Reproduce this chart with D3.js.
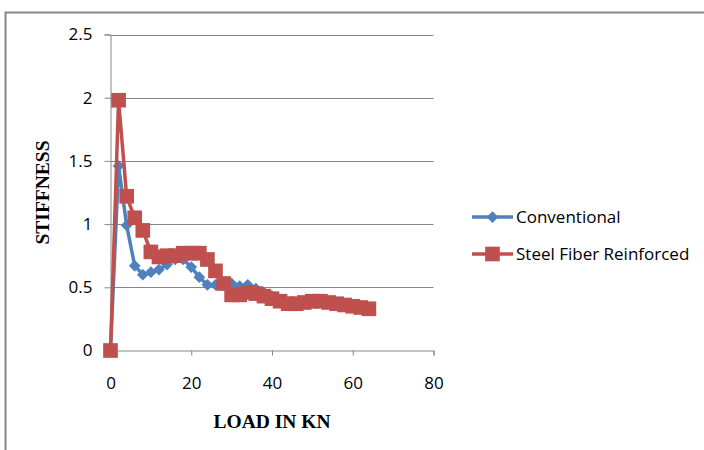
<!DOCTYPE html>
<html>
<head>
<meta charset="utf-8">
<script src="https://cdn.jsdelivr.net/npm/d3@7"></script>
<style>
  body { margin: 0; background: #fff; }
  svg { display: block; }
</style>
</head>
<body>
<div id="chart"></div>
<script>
// load steps (kN) and stiffness
const loadConv = [0, 2, 4, 6, 8, 10, 12, 14, 16, 18, 20, 22, 24, 26, 28, 30, 32, 34, 36, 38, 40];
const stiffConv = [0, 1.46, 0.99, 0.67, 0.60, 0.62, 0.64, 0.68, 0.72, 0.72, 0.66, 0.58, 0.52, 0.52, 0.52, 0.53, 0.51, 0.52, 0.49, 0.46, 0.43];

const loadSfr = [0, 2, 4, 6, 8, 10, 12, 14, 16, 18, 20, 22, 24, 26, 28, 30, 32, 34, 36, 38, 40, 42, 44, 46, 48, 50, 52, 54, 56, 58, 60, 62, 64];
const stiffSfr = [0, 1.98, 1.22, 1.05, 0.95, 0.78, 0.74, 0.75, 0.75, 0.77, 0.77, 0.77, 0.72, 0.63, 0.53, 0.44, 0.44, 0.46, 0.45, 0.43, 0.41, 0.39, 0.37, 0.37, 0.38, 0.39, 0.39, 0.38, 0.37, 0.36, 0.35, 0.34, 0.33];

const xTicks = [0, 20, 40, 60, 80];
const yTicks = [0, 0.5, 1, 1.5, 2, 2.5];

const seriesNames = ['Conventional', 'Steel Fiber Reinforced'];
const seriesColors = ['#4F81BD', '#C0504D'];

const outerWidth = 704;
const outerHeight = 450;
const plot = { left: 110.5, top: 34.5, right: 433.5, bottom: 350.5 };
const gridColor = '#868686';
const tickFont = '"Open Sans", "Noto Sans", sans-serif';

const svg = d3.select('#chart').append('svg')
    .attr('width', outerWidth)
    .attr('height', outerHeight);

// chart frame
svg.append('rect')
    .attr('x', 5.5).attr('y', 12.5)
    .attr('width', 720).attr('height', 460)
    .attr('fill', 'none')
    .attr('stroke', gridColor)
    .attr('stroke-width', 2);

const x = d3.scaleLinear().domain([0, 80]).range([plot.left, plot.right]);
const y = d3.scaleLinear().domain([0, 2.5]).range([plot.bottom, plot.top]);

// horizontal gridlines
svg.append('g')
    .selectAll('line')
    .data(yTicks.filter(d => d > 0))
    .join('line')
    .attr('x1', plot.left).attr('x2', plot.right)
    .attr('y1', d => Math.round(y(d)) + 0.5).attr('y2', d => Math.round(y(d)) + 0.5)
    .attr('stroke', gridColor);

const xAxis = d3.axisBottom(x).tickValues(xTicks).tickSize(5);
const yAxis = d3.axisLeft(y).tickValues(yTicks).tickSize(6).tickPadding(12)
    .tickFormat(d3.format('~g'));

const gx = svg.append('g')
    .attr('transform', `translate(0, ${plot.bottom})`)
    .call(xAxis);
const gy = svg.append('g')
    .attr('transform', `translate(${plot.left}, 0)`)
    .call(yAxis);

[gx, gy].forEach(g => {
    g.select('.domain').attr('stroke', gridColor);
    g.selectAll('.tick line').attr('stroke', gridColor);
    g.selectAll('.tick text')
        .attr('fill', '#000')
        .style('font-family', tickFont)
        .style('font-size', '17px');
});
gx.selectAll('.tick text').attr('y', 38.5).attr('dy', 0);

// axis titles
svg.append('text')
    .attr('x', (plot.left + plot.right) / 2)
    .attr('y', 428)
    .attr('text-anchor', 'middle')
    .style('font-family', '"Liberation Serif", "Times New Roman", serif')
    .style('font-weight', 'bold')
    .style('font-size', '19.5px')
    .text('LOAD IN KN');

svg.append('text')
    .attr('transform', `translate(49, ${(plot.top + plot.bottom) / 2}) rotate(-90)`)
    .attr('text-anchor', 'middle')
    .style('font-family', '"Liberation Serif", "Times New Roman", serif')
    .style('font-weight', 'bold')
    .style('font-size', '19.5px')
    .text('STIFFNESS');

const line = d3.line().x(d => x(d[0])).y(d => y(d[1]));

const diamond = d3.symbol().type(d3.symbolDiamond2).size(88);
const square = d3.symbol().type(d3.symbolSquare).size(215);

const series = [
    { name: seriesNames[0], color: seriesColors[0], symbol: diamond,
      points: loadConv.map((l, i) => [l, stiffConv[i]]) },
    { name: seriesNames[1], color: seriesColors[1], symbol: square,
      points: loadSfr.map((l, i) => [l, stiffSfr[i]]) }
];

series.forEach(s => {
    const g = svg.append('g');
    g.append('path')
        .datum(s.points)
        .attr('d', line)
        .attr('fill', 'none')
        .attr('stroke', s.color)
        .attr('stroke-width', 3.5)
        .attr('stroke-linejoin', 'round');
    g.selectAll('path.mark')
        .data(s.points)
        .join('path')
        .attr('class', 'mark')
        .attr('transform', d => `translate(${x(d[0])}, ${y(d[1])})`)
        .attr('d', s.symbol)
        .attr('fill', s.color);
});

// legend
const legend = svg.append('g');
const legendY = [217, 254];
series.forEach((s, i) => {
    const row = legend.append('g').attr('transform', `translate(472, ${legendY[i]})`);
    row.append('line')
        .attr('x1', 0).attr('x2', 41)
        .attr('stroke', s.color)
        .attr('stroke-width', 3.5);
    row.append('path')
        .attr('transform', 'translate(20.5, 0)')
        .attr('d', s.symbol)
        .attr('fill', s.color);
    row.append('text')
        .attr('x', 44)
        .attr('dy', '0.35em')
        .style('font-family', tickFont)
        .style('font-size', '17px')
        .attr('fill', '#000')
        .text(s.name);
});
</script>
</body>
</html>
